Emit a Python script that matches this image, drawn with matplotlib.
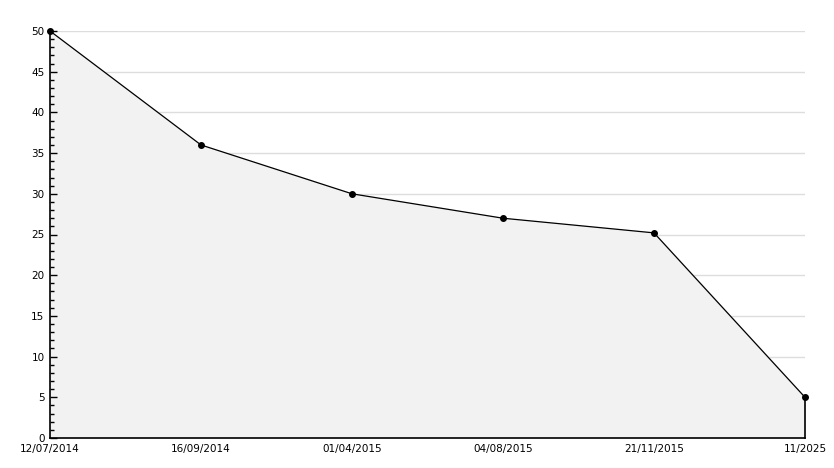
import matplotlib.pyplot as plt
from matplotlib.ticker import MultipleLocator

dates = ['12/07/2014', '16/09/2014', '01/04/2015', '04/08/2015', '21/11/2015', '11/2025']
values = [50, 36, 30, 27, 25.2, 5]
grid_levels = [5, 10, 15, 20, 25, 30, 35, 40, 45, 50]

fig = plt.figure(figsize=(8.34, 4.68), dpi=100)
ax = fig.add_axes([50 / 834, 30 / 468, 755 / 834, 407 / 468])

x = list(range(len(dates)))

# grid lines behind the filled area, ticks stay on top
for g in grid_levels:
    ax.axhline(g, color='#dddddd', linewidth=1, zorder=0.5)

ax.fill_between(x, values, 0, color='#f2f2f2', zorder=1)
ax.plot([x[-1], x[-1]], [0, values[-1]], color='black', linewidth=1.2,
        zorder=3, clip_on=False)
ax.plot(x, values, color='black', linewidth=0.9, marker='o', markersize=4,
        zorder=4, clip_on=False)

ax.set_xlim(0, len(dates) - 1)
ax.set_ylim(0, 50)
ax.set_xticks(x)
ax.set_xticklabels(dates)
ax.yaxis.set_major_locator(MultipleLocator(5))
ax.yaxis.set_minor_locator(MultipleLocator(1))

ax.tick_params(axis='x', length=0, pad=4, labelsize=7.5)
ax.tick_params(axis='y', which='major', direction='in', length=5, width=1, labelsize=7.5, pad=4)
ax.tick_params(axis='y', which='minor', direction='in', length=3, width=1)

for s in ['top', 'right']:
    ax.spines[s].set_visible(False)
ax.spines['left'].set_linewidth(1.2)
ax.spines['bottom'].set_linewidth(1.2)

fig.savefig('out.png', dpi=100)
